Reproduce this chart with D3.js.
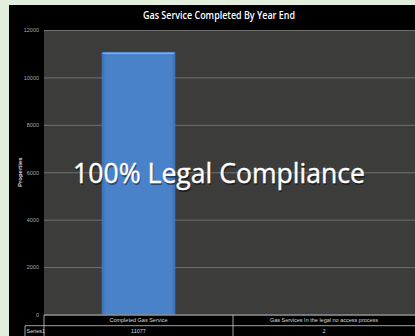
<!DOCTYPE html>
<html><head><meta charset="utf-8">
<script src="https://cdn.jsdelivr.net/npm/d3@7"></script>
<style>html,body{margin:0;padding:0;background:#e1efdc;}svg{display:block;}</style>
</head><body>
<svg id="c" width="415" height="336"></svg>
<script>
const categories = ["Completed Gas Service", "Gas Services In the legal no access process"];
const seriesName = "Series1";
const values = [11077, 2];
const yTicks = [0, 2000, 4000, 6000, 8000, 10000, 12000];
const title = "Gas Service Completed  By Year End";
const yLabel = "Properties";
const overlay = "100% Legal Compliance";

const svg = d3.select("#c");
const W = 415, H = 336;
const panel = {x: 9, y: 5};
const m = {left: 44, top: 30, right: 422, bottom: 314.5};

svg.append("rect").attr("x", panel.x).attr("y", panel.y).attr("width", W - panel.x).attr("height", H - panel.y).attr("fill", "#000");

const x = d3.scaleBand().domain(categories).range([m.left, m.right]).paddingInner(0).paddingOuter(0);
const y = d3.scaleLinear().domain([0, 12000]).range([m.bottom, m.top]);

svg.append("rect").attr("x", m.left).attr("y", m.top).attr("width", m.right - m.left).attr("height", m.bottom - m.top).attr("fill", "#3c3c3b");

const grid = svg.append("g").attr("transform", `translate(${m.left},0)`)
  .call(d3.axisLeft(y).tickValues(yTicks).tickSize(-(m.right - m.left)).tickFormat(d => d));
grid.select(".domain").remove();
grid.selectAll(".tick line").attr("stroke", "#717171").attr("stroke-width", 1);
grid.selectAll(".tick text").attr("fill", "#a8a8a8").attr("font-size", 5.5).attr("font-family", "Liberation Sans, Arial, sans-serif").attr("x", -5);

const defs = svg.append("defs");
const lg = defs.append("linearGradient").attr("id", "bg").attr("x1", 0).attr("x2", 1).attr("y1", 0).attr("y2", 0);
lg.append("stop").attr("offset", "0").attr("stop-color", "#3a6fb5");
lg.append("stop").attr("offset", "0.06").attr("stop-color", "#4a82c9");
lg.append("stop").attr("offset", "0.94").attr("stop-color", "#4a82c9");
lg.append("stop").attr("offset", "1").attr("stop-color", "#3a6fb5");

const bw = x.bandwidth() * 0.39;
const bars = svg.append("g");
bars.selectAll("rect").data(values).join("rect")
  .attr("x", (d, i) => x(categories[i]) + x.bandwidth() / 2 - bw / 2)
  .attr("y", d => y(d))
  .attr("width", bw)
  .attr("height", d => y(0) - y(d))
  .attr("fill", "url(#bg)");
bars.selectAll("line").data(values).join("line")
  .attr("x1", (d, i) => x(categories[i]) + x.bandwidth() / 2 - bw / 2 + 1)
  .attr("x2", (d, i) => x(categories[i]) + x.bandwidth() / 2 + bw / 2 - 1)
  .attr("y1", d => y(d) + 1.5).attr("y2", d => y(d) + 1.5)
  .attr("stroke", "#86b0e4").attr("stroke-width", 1.2)
  .attr("opacity", d => (y(0) - y(d)) > 3 ? 1 : 0);

// data table
const tableTop = 315, rowH = 10.7;
const tbl = svg.append("g").attr("stroke", "#c8c8c8").attr("stroke-width", 0.8).attr("fill", "none");
tbl.append("line").attr("x1", m.left).attr("x2", W).attr("y1", tableTop).attr("y2", tableTop);
tbl.append("line").attr("x1", 25).attr("x2", W).attr("y1", tableTop + rowH).attr("y2", tableTop + rowH);
tbl.append("line").attr("x1", m.left).attr("x2", m.left).attr("y1", tableTop).attr("y2", H);
tbl.append("line").attr("x1", 25).attr("x2", 25).attr("y1", tableTop + rowH).attr("y2", H);
categories.forEach((c, i) => {
  if (i > 0) tbl.append("line").attr("x1", x(c)).attr("x2", x(c)).attr("y1", tableTop).attr("y2", H);
});
const tt = svg.append("g").attr("font-family", "Liberation Sans Narrow, Liberation Sans, sans-serif").attr("font-size", 5.5).attr("fill", "#d8d8d8").attr("text-anchor", "middle");
categories.forEach((c, i) => {
  tt.append("text").attr("x", x(c) + x.bandwidth() / 2 - (i === 1 ? 3.5 : 0)).attr("y", tableTop + 7.3).text(c);
  tt.append("text").attr("x", x(c) + x.bandwidth() / 2 - (i === 1 ? 3.5 : 0)).attr("y", tableTop + rowH + 7.3).text(values[i]);
});
tt.append("text").attr("x", 26.5).attr("y", tableTop + rowH + 7.3).attr("text-anchor", "start").text(seriesName);

// title
svg.append("text").attr("x", 219).attr("y", 18.5).attr("text-anchor", "middle")
  .attr("font-family", "Open Sans, sans-serif").attr("font-weight", "600").attr("font-size", 10.5)
  .attr("fill", "#fff").attr("textLength", 152).attr("lengthAdjust", "spacingAndGlyphs").text(title);

// y label
svg.append("text").attr("transform", `translate(22,${(m.top + m.bottom) / 2}) rotate(-90)`)
  .attr("text-anchor", "middle").attr("font-family", "Liberation Sans, sans-serif").attr("font-weight", "bold")
  .attr("font-size", 6).attr("fill", "#dcdcdc").text(yLabel);

// overlay text: size fitted to a 292px width
const ov = svg.append("g");
const shadow = ov.append("text").attr("x", 220).attr("y", 184.5).attr("text-anchor", "middle")
  .attr("font-family", "Open Sans, sans-serif").attr("fill", "#000").attr("opacity", 0.45).text(overlay);
const main = ov.append("text").attr("x", 219).attr("y", 183).attr("text-anchor", "middle")
  .attr("font-family", "Open Sans, sans-serif").attr("fill", "#fff")
  .attr("stroke", "#fff").attr("stroke-width", 0.4).text(overlay);
main.attr("font-size", 30);
const w0 = main.node().getComputedTextLength();
const fs = 30 * 292 / w0;
main.attr("font-size", fs);
shadow.attr("font-size", fs);
</script>
</body></html>
